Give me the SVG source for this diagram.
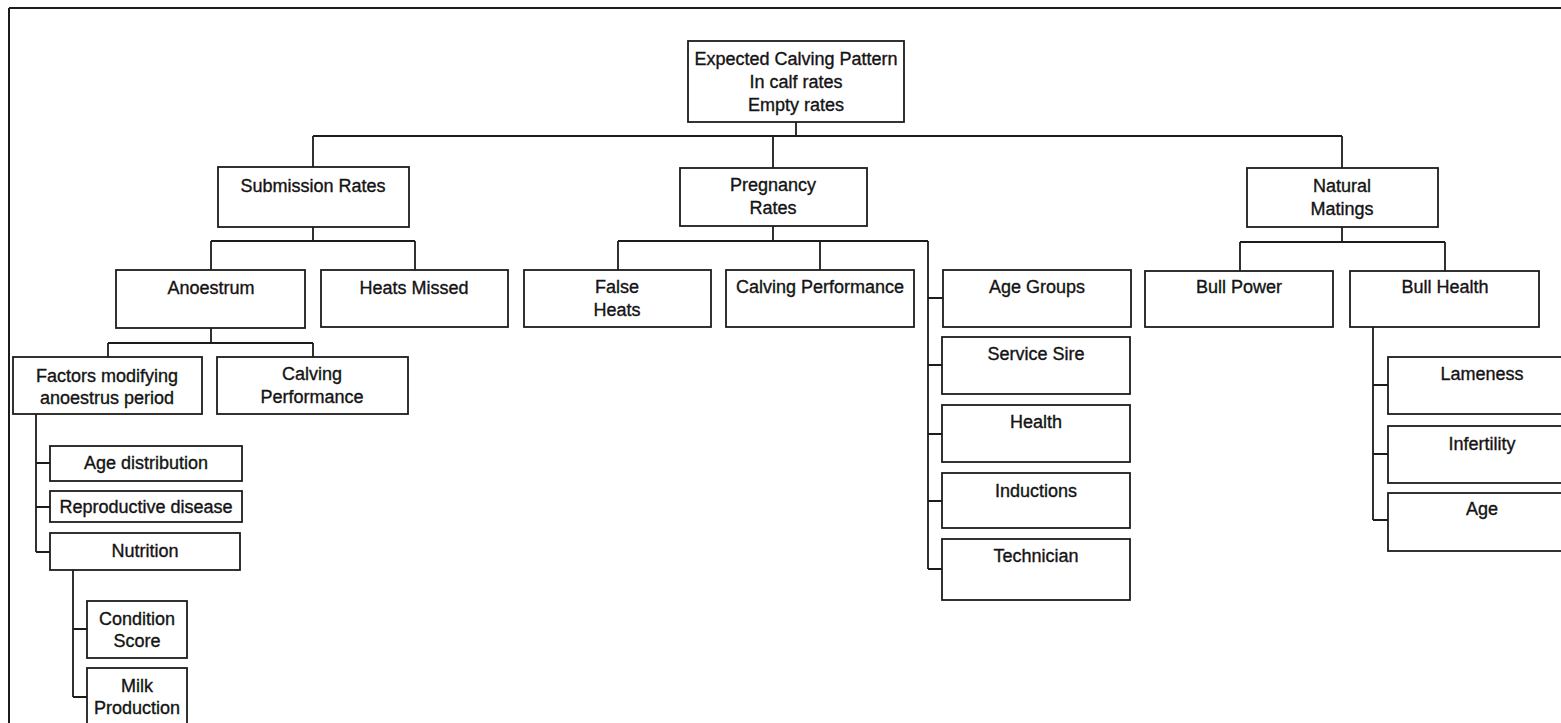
<svg xmlns="http://www.w3.org/2000/svg" width="1561" height="723" viewBox="0 0 1561 723">
  <style>
    .box { fill: #ffffff; stroke: #1c1c1c; stroke-width: 1.8; }
    .wire { fill: none; stroke: #1c1c1c; stroke-width: 1.8; }
    .frame { fill: none; stroke: #1c1c1c; stroke-width: 2; }
    text { font-family: "Liberation Sans", Arial, sans-serif; font-size: 18px; fill: #141414; stroke: #141414; stroke-width: 0.35; text-anchor: middle; }
  </style>
  <rect x="0" y="0" width="1561" height="723" fill="#ffffff"/>

  <!-- page frame (top and left edges) -->
  <path class="frame" d="M9,8 H1561 M9,8 V723"/>

  <!-- connectors -->
  <g id="connectors">
    <!-- root to first level -->
    <path class="wire" d="M796,122 V136 M313,136 H1342 M313,136 V167 M773,136 V168 M1342,136 V168"/>
    <!-- Submission Rates branch -->
    <path class="wire" d="M313,227 V241 M211,241 H415 M211,241 V270 M415,241 V270"/>
    <!-- Anoestrum branch -->
    <path class="wire" d="M211,328 V343 M108,343 H313 M108,343 V357 M313,343 V357"/>
    <!-- Factors modifying anoestrus period list -->
    <path class="wire" d="M36,414 V552 M36,463 H50 M36,507 H50 M36,552 H50"/>
    <!-- Nutrition list -->
    <path class="wire" d="M73,570 V697 M73,629 H87 M73,697 H87"/>
    <!-- Pregnancy Rates branch -->
    <path class="wire" d="M773,226 V241 M618,241 H928 M618,241 V270 M820,241 V270"/>
    <path class="wire" d="M928,241 V569 M928,298 H943 M928,365 H942 M928,434 H942 M928,501 H942 M928,569 H942"/>
    <!-- Natural Matings branch -->
    <path class="wire" d="M1342,227 V242 M1240,242 H1445 M1240,242 V271 M1445,242 V271"/>
    <!-- Bull Health list -->
    <path class="wire" d="M1373,327 V520 M1373,385 H1388 M1373,454 H1388 M1373,520 H1388"/>
  </g>

  <!-- root -->
  <g id="n-root">
    <rect class="box" x="688" y="41" width="216" height="81"/>
    <text x="796" y="65">Expected Calving Pattern</text>
    <text x="796" y="88">In calf rates</text>
    <text x="796" y="111">Empty rates</text>
  </g>

  <!-- first level -->
  <g id="n-submission">
    <rect class="box" x="218" y="167" width="191" height="60"/>
    <text x="313" y="192">Submission Rates</text>
  </g>
  <g id="n-pregnancy">
    <rect class="box" x="680" y="168" width="187" height="58"/>
    <text x="773" y="191">Pregnancy</text>
    <text x="773" y="214">Rates</text>
  </g>
  <g id="n-natural">
    <rect class="box" x="1247" y="168" width="191" height="59"/>
    <text x="1342" y="192">Natural</text>
    <text x="1342" y="215">Matings</text>
  </g>

  <!-- Submission Rates children -->
  <g id="n-anoestrum">
    <rect class="box" x="116" y="270" width="189" height="58"/>
    <text x="211" y="294">Anoestrum</text>
  </g>
  <g id="n-heats-missed">
    <rect class="box" x="321" y="270" width="187" height="57"/>
    <text x="414" y="294">Heats Missed</text>
  </g>

  <!-- Anoestrum children -->
  <g id="n-factors">
    <rect class="box" x="13" y="357" width="189" height="57"/>
    <text x="107" y="382">Factors  modifying</text>
    <text x="107" y="404">anoestrus period</text>
  </g>
  <g id="n-calving-perf-a">
    <rect class="box" x="217" y="357" width="191" height="57"/>
    <text x="312" y="380">Calving</text>
    <text x="312" y="403">Performance</text>
  </g>

  <!-- factors list -->
  <g id="n-age-dist">
    <rect class="box" x="50" y="446" width="192" height="35"/>
    <text x="146" y="469">Age distribution</text>
  </g>
  <g id="n-repro">
    <rect class="box" x="50" y="491" width="192" height="31"/>
    <text x="146" y="513">Reproductive disease</text>
  </g>
  <g id="n-nutrition">
    <rect class="box" x="50" y="533" width="190" height="37"/>
    <text x="145" y="557">Nutrition</text>
  </g>
  <g id="n-condition">
    <rect class="box" x="87" y="601" width="100" height="57"/>
    <text x="137" y="625">Condition</text>
    <text x="137" y="647">Score</text>
  </g>
  <g id="n-milk">
    <rect class="box" x="87" y="668" width="100" height="70"/>
    <text x="137" y="692">Milk</text>
    <text x="137" y="714">Production</text>
  </g>

  <!-- Pregnancy Rates children -->
  <g id="n-false-heats">
    <rect class="box" x="524" y="270" width="187" height="57"/>
    <text x="617" y="293">False</text>
    <text x="617" y="316">Heats</text>
  </g>
  <g id="n-calving-perf-b">
    <rect class="box" x="726" y="270" width="188" height="57"/>
    <text x="820" y="293">Calving Performance</text>
  </g>
  <g id="n-age-groups">
    <rect class="box" x="943" y="270" width="188" height="57"/>
    <text x="1037" y="293">Age Groups</text>
  </g>
  <g id="n-service-sire">
    <rect class="box" x="942" y="337" width="188" height="57"/>
    <text x="1036" y="360">Service Sire</text>
  </g>
  <g id="n-health">
    <rect class="box" x="942" y="405" width="188" height="57"/>
    <text x="1036" y="428">Health</text>
  </g>
  <g id="n-inductions">
    <rect class="box" x="942" y="473" width="188" height="55"/>
    <text x="1036" y="497">Inductions</text>
  </g>
  <g id="n-technician">
    <rect class="box" x="942" y="539" width="188" height="61"/>
    <text x="1036" y="562">Technician</text>
  </g>

  <!-- Natural Matings children -->
  <g id="n-bull-power">
    <rect class="box" x="1145" y="271" width="188" height="56"/>
    <text x="1239" y="293">Bull Power</text>
  </g>
  <g id="n-bull-health">
    <rect class="box" x="1350" y="271" width="189" height="56"/>
    <text x="1445" y="293">Bull Health</text>
  </g>
  <g id="n-lameness">
    <rect class="box" x="1388" y="357" width="190" height="57"/>
    <text x="1482" y="380">Lameness</text>
  </g>
  <g id="n-infertility">
    <rect class="box" x="1388" y="426" width="190" height="57"/>
    <text x="1482" y="450">Infertility</text>
  </g>
  <g id="n-age">
    <rect class="box" x="1388" y="493" width="190" height="58"/>
    <text x="1482" y="515">Age</text>
  </g>
</svg>
